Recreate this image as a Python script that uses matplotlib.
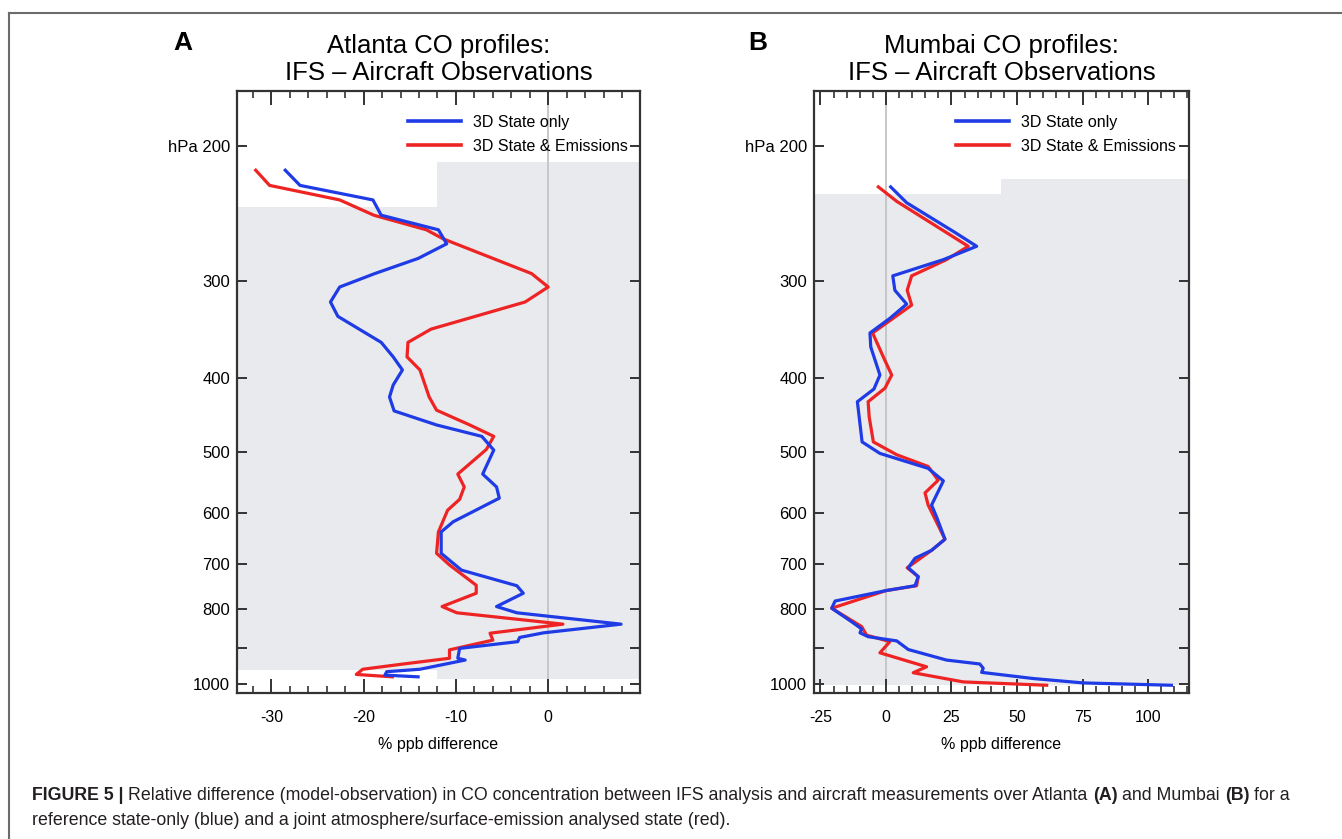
import matplotlib
matplotlib.use("Agg")
import matplotlib.pyplot as plt
from matplotlib.patches import Rectangle
from matplotlib.lines import Line2D
from matplotlib.ticker import FixedLocator, MultipleLocator, NullFormatter

plt.rcParams["font.family"] = ["Liberation Sans", "DejaVu Sans"]
plt.rcParams["axes.unicode_minus"] = False

# Atlanta profiles (pressure hPa, % ppb difference)
atl_blue_p = [215, 225, 235, 246, 257, 268, 280, 293, 305, 319, 333, 360, 376, 391,
              409, 424, 442, 461, 477, 497, 534, 555, 574, 616, 635, 677, 712, 746,
              763, 794, 809, 837, 859, 871, 882, 900, 927, 932, 958, 965, 975, 980]
atl_blue_x = [-28.5, -26.9, -19.0, -18.1, -11.9, -11.0, -14.1, -18.8, -22.6, -23.6,
              -22.8, -18.1, -16.8, -15.8, -16.8, -17.2, -16.7, -12.1, -7.2, -5.9,
              -7.1, -5.6, -5.3, -10.3, -11.6, -11.6, -9.4, -3.4, -2.7, -5.6, -3.4,
              7.9, -0.5, -3.1, -3.3, -9.6, -9.8, -9.0, -13.9, -17.5, -17.7, -14.1]
atl_red_p = [215, 225, 235, 246, 257, 264, 293, 305, 319, 346, 360, 376, 391, 424,
             441, 461, 477, 496, 534, 555, 576, 595, 635, 677, 701, 745, 763, 794,
             809, 837, 860, 878, 904, 927, 943, 958, 973, 980]
atl_red_x = [-31.7, -30.2, -22.6, -18.9, -13.2, -11.4, -1.8, 0.0, -2.5, -12.7, -15.2,
             -15.3, -13.9, -12.9, -12.1, -8.5, -5.9, -6.7, -9.8, -9.1, -9.6, -10.9,
             -11.9, -12.1, -10.7, -7.8, -7.8, -11.5, -9.9, 1.6, -6.3, -6.0, -10.7,
             -10.7, -15.7, -20.1, -20.8, -16.9]

# Mumbai profiles
mum_blue_p = [226, 237, 259, 270, 281, 295, 308, 321, 335, 350, 365, 397, 414, 430,
              485, 502, 525, 545, 586, 607, 649, 671, 687, 707, 726, 746, 757, 781,
              798, 831, 849, 859, 869, 880, 903, 932, 943, 955, 967, 985, 998, 1005]
mum_blue_x = [1.8, 7.9, 26.3, 34.6, 21.9, 2.6, 3.4, 7.9, 1.5, -6.1, -5.8, -2.3, -4.6,
              -10.9, -9.1, -2.3, 16.1, 21.9, 17.4, 19.3, 22.5, 17.4, 11.1, 8.5, 12.3,
              11.1, 0.0, -19.4, -20.7, -13.1, -9.3, -9.9, -6.8, 4.1, 8.5, 23.1, 35.8,
              37.1, 36.5, 56.2, 75.2, 108.9]
mum_red_p = [226, 236, 270, 281, 295, 308, 322, 350, 380, 397, 413, 430, 450, 485,
             504, 522, 544, 565, 586, 649, 671, 707, 726, 746, 757, 798, 843, 865,
             882, 912, 951, 968, 995, 1005]
mum_red_x = [-2.9, 4.1, 31.4, 23.1, 9.8, 8.1, 9.8, -5.1, -0.4, 2.2, -0.4, -6.8, -6.4,
             -4.8, 4.1, 16.1, 19.9, 14.9, 16.1, 22.5, 17.4, 8.1, 12.3, 11.7, 0.0,
             -20.7, -9.3, -7.4, 1.5, -2.3, 15.5, 10.4, 29.5, 61.3]

# grey background boxes: (x split, left top/bottom p, right top/bottom p)
atl_shade = (-12, (240, 959), (210, 986))
mum_shade = (44, (231, 1003), (221, 1003))

p_ticks = [200, 300, 400, 500, 600, 700, 800, 900, 1000]
p_labels = ["hPa 200", "300", "400", "500", "600", "700", "800", "", "1000"]
legend_labels = ["3D State only", "3D State & Emissions"]

BLUE = "#1f3be6"
RED = "#ee2424"
SHADE = "#e9eaee"

fig = plt.figure(figsize=(13.42, 8.39), dpi=100)
W, H = 1342, 839


def px(x0, y0, x1, y1):
    return [x0 / W, 1 - y1 / H, (x1 - x0) / W, (y1 - y0) / H]


def panel(rect, xlim, xmajor, xminor, shade, blue, red, title, letter, letter_x, leg_x):
    ax = fig.add_axes(rect)
    ax.set_yscale("log")
    ax.set_ylim(1028.6, 169.6)
    ax.set_xlim(*xlim)
    split, left_p, right_p = shade
    ax.add_patch(Rectangle((xlim[0] - 50, left_p[0]), split - xlim[0] + 50,
                           left_p[1] - left_p[0], color=SHADE, lw=0, zorder=0))
    ax.add_patch(Rectangle((split, right_p[0]), xlim[1] + 50 - split,
                           right_p[1] - right_p[0], color=SHADE, lw=0, zorder=0))
    ax.axvline(0, color="#c4c4c4", lw=1.3, zorder=1)
    ax.plot(blue[1], blue[0], color=BLUE, lw=2.3, zorder=3)
    ax.plot(red[1], red[0], color=RED, lw=2.3, zorder=2)

    ax.yaxis.set_major_locator(FixedLocator(p_ticks))
    ax.set_yticklabels(p_labels)
    ax.yaxis.set_minor_formatter(NullFormatter())
    ax.yaxis.set_minor_locator(FixedLocator([]))
    ax.xaxis.set_major_locator(MultipleLocator(xmajor))
    ax.xaxis.set_minor_locator(MultipleLocator(xminor))
    ax.tick_params(axis="x", which="major", direction="in", length=10, width=1.4,
                   top=True, labelsize=11.5, pad=12, color="#333333")
    ax.tick_params(axis="x", which="minor", direction="in", length=5, width=1.2,
                   top=True, color="#333333")
    ax.tick_params(axis="y", which="major", direction="in", length=7.5, width=1.4,
                   right=True, labelsize=12, pad=5, color="#333333")
    for s in ax.spines.values():
        s.set_linewidth(1.6)
        s.set_color("#333333")
    ax.set_xlabel("% ppb difference", fontsize=11.5, labelpad=9)
    ax.set_title(title, fontsize=18.5, pad=8, linespacing=1.15)

    handles = [Line2D([], [], color=BLUE, lw=2.6), Line2D([], [], color=RED, lw=2.6)]
    ax.legend(handles, legend_labels, loc="upper left", frameon=False, fontsize=11.5,
              bbox_to_anchor=(leg_x / W, 1 - 115 / H), bbox_transform=fig.transFigure,
              borderpad=0, borderaxespad=0, handlelength=3.3, handletextpad=0.75,
              labelspacing=0.56)
    fig.text(letter_x / W, 1 - 43 / H, letter, fontsize=19, fontweight="bold",
             ha="left", va="center")
    return ax


panel(px(237, 91, 640, 693), (-33.73, 9.95), 10, 2, atl_shade,
      (atl_blue_p, atl_blue_x), (atl_red_p, atl_red_x),
      "Atlanta CO profiles:\nIFS \u2013 Aircraft Observations", "A", 173, 408)
panel(px(814, 91, 1189, 693), (-27.45, 115.6), 25, 5, mum_shade,
      (mum_blue_p, mum_blue_x), (mum_red_p, mum_red_x),
      "Mumbai CO profiles:\nIFS \u2013 Aircraft Observations", "B", 748, 956)

# frame lines of the page
fig.add_artist(Line2D([9 / W, 1], [1 - 13 / H, 1 - 13 / H], color="#6b6b6b", lw=1.5))
fig.add_artist(Line2D([9 / W, 9 / W], [0, 1 - 13 / H], color="#6b6b6b", lw=1.5))

# caption with mixed weights
renderer = fig.canvas.get_renderer()
cap_size = 12.8


def rich_line(x, y, pieces):
    for txt, bold in pieces:
        t = fig.text(x / W, 1 - y / H, txt, fontsize=cap_size, color="#231f20",
                     fontweight="bold" if bold else "normal", ha="left", va="baseline")
        bb = t.get_window_extent(renderer=renderer)
        x = bb.x1 + cap_size * 0.28 * 100 / 72


rich_line(32, 800, [("FIGURE 5 |", True),
                    ("Relative difference (model-observation) in CO concentration between "
                     "IFS analysis and aircraft measurements over Atlanta", False),
                    ("(A)", True), ("and Mumbai", False), ("(B)", True), ("for a", False)])
rich_line(32, 825, [("reference state-only (blue) and a joint atmosphere/surface-emission "
                     "analysed state (red).", False)])

fig.savefig("out.png", dpi=100)
